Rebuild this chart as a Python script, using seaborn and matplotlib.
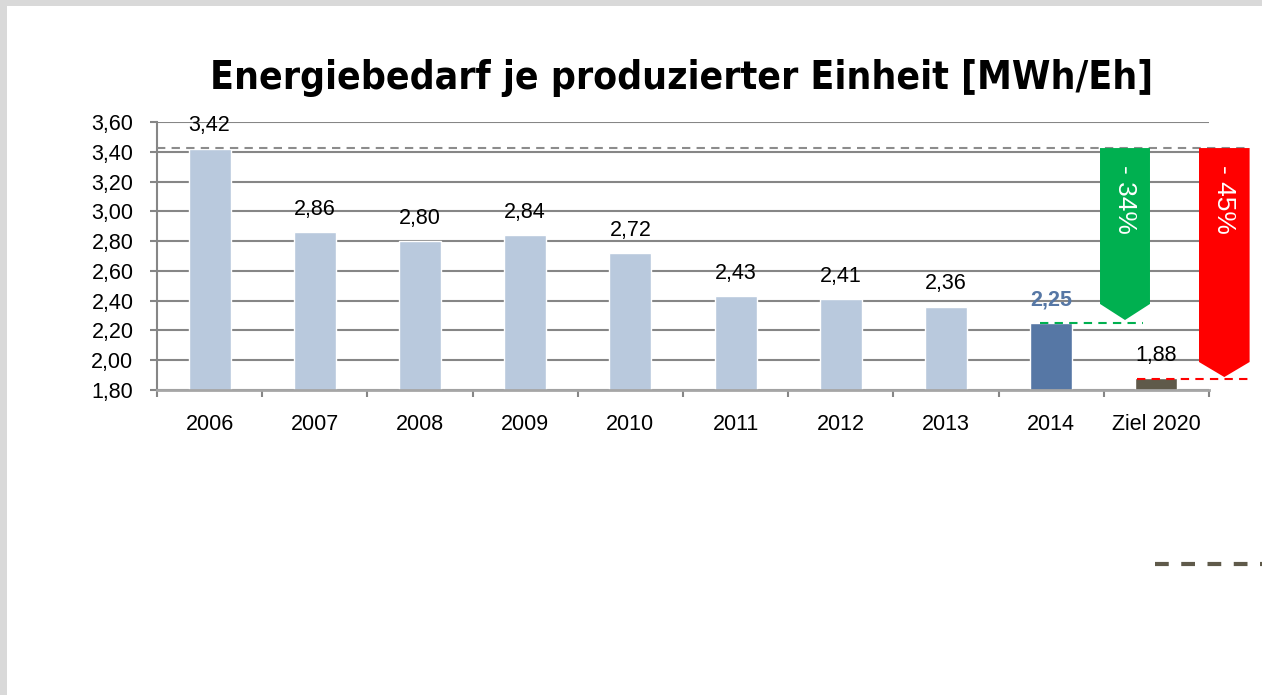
import matplotlib
matplotlib.use("Agg")
import matplotlib.pyplot as plt
from matplotlib.patches import Polygon
from matplotlib.lines import Line2D
from matplotlib import font_manager
import seaborn as sns
import pandas as pd

categories = ["2006", "2007", "2008", "2009", "2010", "2011", "2012", "2013", "2014", "Ziel 2020"]
values = [3.42, 2.86, 2.80, 2.84, 2.72, 2.43, 2.41, 2.36, 2.25, 1.88]
labels = ["3,42", "2,86", "2,80", "2,84", "2,72", "2,43", "2,41", "2,36", "2,25", "1,88"]
bar_colors = ["#b9c9dd"] * 8 + ["#5677a5", "#5f5a4a"]
yticks = [1.80, 2.00, 2.20, 2.40, 2.60, 2.80, 3.00, 3.20, 3.40, 3.60]
reduction_labels = ["- 34%", "- 45%"]

sns.set_style("white")
plt.rcParams['font.family'] = ['Liberation Sans', 'DejaVu Sans']
plt.rcParams['text.color'] = 'black'
plt.rcParams['xtick.color'] = 'black'
plt.rcParams['ytick.color'] = 'black'

fonts = {(f.name, f.stretch) for f in font_manager.fontManager.ttflist}
names = {n for n, _ in fonts}
if 'Liberation Sans Narrow' in names:
    title_kw = dict(family='Liberation Sans Narrow', fontsize=36)
elif ('DejaVu Sans', 'condensed') in fonts or ('DejaVu Sans', 'semi-condensed') in fonts:
    title_kw = dict(family='DejaVu Sans', fontstretch='condensed', fontsize=28)
else:
    title_kw = dict(family='Liberation Sans', fontsize=28)

df = pd.DataFrame({'Jahr': categories, 'Wert': values})

fig = plt.figure(figsize=(12.62, 6.95), dpi=100)
fig.patch.set_facecolor('#d9d9d9')
# white inner panel
fig.add_artist(plt.Rectangle((7 / 1262, 0), 1, 1 - 6 / 695, transform=fig.transFigure,
                             facecolor='white', edgecolor='none', zorder=-10))

ax = fig.add_axes([157 / 1262, 1 - 390 / 695, (1209 - 157) / 1262, (390 - 122) / 695])
ax.set_facecolor('none')
sns.barplot(data=df, x='Jahr', y='Wert', hue='Jahr', palette=bar_colors, legend=False,
            width=0.4, saturation=1, ax=ax, zorder=3)

ax.set_ylim(1.80, 3.60)
ax.set_xlim(-0.5, len(categories) - 0.5)
ax.set_yticks(yticks)
ax.set_yticklabels([f"{t:.2f}".replace('.', ',') for t in yticks], fontsize=15.5)
ax.set_xticks(range(len(categories)))
ax.set_xticklabels(categories, fontsize=15.5)
ax.set_xlabel('')
ax.set_ylabel('')
ax.tick_params(axis='y', length=5, width=1.5, color='#868686', labelcolor='black', pad=12, left=True)
ax.tick_params(axis='x', which='major', length=0, pad=17, labelcolor='black')
ax.set_xticks([i + 0.5 for i in range(-1, len(categories))], minor=True)
ax.tick_params(axis='x', which='minor', length=5, width=1.5, color='#868686', bottom=True)
ax.yaxis.grid(True, color='#868686', linewidth=1.5, zorder=0)
ax.set_axisbelow(True)
for s in ['top', 'right']:
    ax.spines[s].set_visible(False)
ax.spines['left'].set_color('#868686')
ax.spines['left'].set_linewidth(1.5)
ax.spines['bottom'].set_color('#a6a6a6')
ax.spines['bottom'].set_linewidth(2)
ax.spines['bottom'].set_zorder(4)

# value labels
for i, (v, lab) in enumerate(zip(values, labels)):
    if categories[i] == "2014":
        ax.annotate(lab, (i, v), xytext=(0, 9), textcoords='offset points', ha='center',
                    va='bottom', fontsize=15.5, fontweight='bold', color='#5677a5', zorder=6)
    else:
        ax.annotate(lab, (i, v), xytext=(0, 9), textcoords='offset points', ha='center',
                    va='bottom', fontsize=15.5, color='black', zorder=6)

# reference dashed lines
ax.plot([-0.5, 9.89], [3.425, 3.425], ls=(0, (4, 3)), color='#8c8c8c', lw=1.5, clip_on=False, zorder=5)
ax.plot([7.89, 8.87], [2.25, 2.25], ls=(0, (4, 3)), color='#00b050', lw=1.5, clip_on=False, zorder=5)
ax.plot([8.82, 9.89], [1.874, 1.874], ls=(0, (4, 3)), color='#ff0000', lw=1.5, clip_on=False, zorder=6)

# reduction arrows
arrows = [
    (8.464, 8.939, 3.425, 2.378, 2.27, '#00b050'),
    (9.405, 9.886, 3.425, 1.988, 1.887, '#ff0000'),
]
for (x0, x1, top, body, tip, col), txt in zip(arrows, reduction_labels):
    xm = (x0 + x1) / 2
    poly = Polygon([(x0, top), (x1, top), (x1, body), (xm, tip), (x0, body)], closed=True,
                   facecolor=col, edgecolor='none', clip_on=False, zorder=5)
    ax.add_patch(poly)
    ax.text(xm, 3.31, txt, rotation=270, ha='center', va='top', color='white',
            fontsize=19, zorder=7, clip_on=False)

fig.text(682 / 1262, 1 - 78 / 695, "Energiebedarf je produzierter Einheit [MWh/Eh]", ha='center',
         va='center', fontweight='bold', color='black', **title_kw)

# stray dashed line at bottom right
fig.add_artist(Line2D([1155 / 1262, 1.0], [1 - 564 / 695, 1 - 564 / 695], transform=fig.transFigure,
                      color='#5f5a4a', lw=3, ls=(0, (3.3, 3))))

fig.savefig('out.png', dpi=100, facecolor=fig.get_facecolor())
